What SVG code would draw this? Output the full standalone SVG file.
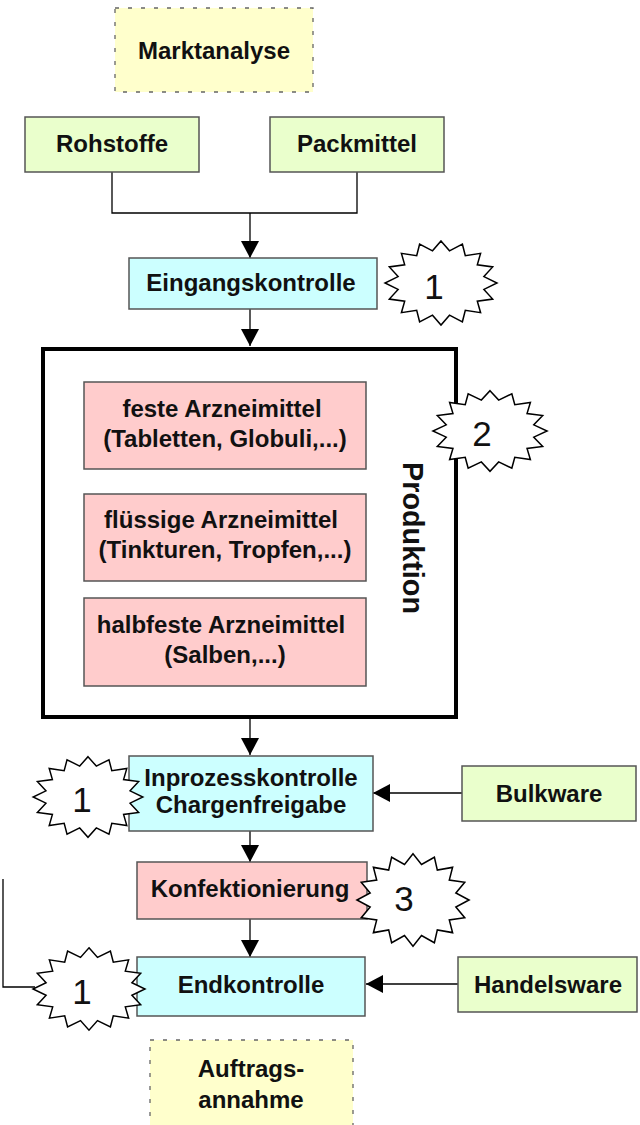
<svg xmlns="http://www.w3.org/2000/svg" width="640" height="1125" viewBox="0 0 640 1125">
<style>
.box{stroke:#555;stroke-width:1.5}
.green{fill:#eaffcc}
.cyan{fill:#ccffff}
.pink{fill:#ffcccc}
.yellow{fill:#ffffcc;stroke:#666;stroke-width:1.3;stroke-dasharray:4 9}
.t{font-family:"Liberation Sans",Arial,sans-serif;font-weight:bold;font-size:24px;fill:#111;text-anchor:middle}
.num{font-family:"Liberation Sans",Arial,sans-serif;font-size:35px;fill:#111;text-anchor:middle}
.star{fill:#fff;stroke:#000;stroke-width:1.5;stroke-linejoin:miter}
.conn{fill:none;stroke:#000;stroke-width:1.3}
</style>
<defs>
<marker id="arr" markerUnits="userSpaceOnUse" markerWidth="18" markerHeight="20" refX="17" refY="9" orient="auto">
<path d="M0,0 L17,9 L0,18 Z" fill="#000"/>
</marker>
<polygon id="starShape" points="0,-42 8.5,-32.2 21.4,-38.8 24.3,-27.3 39.6,-29.7 36.3,-18.2 51.7,-16.1 42.9,-6.4 56,0 42.9,6.4 51.7,16.1 36.3,18.2 39.6,29.7 24.3,27.3 21.4,38.8 8.5,32.2 0,42 -8.5,32.2 -21.4,38.8 -24.3,27.3 -39.6,29.7 -36.3,18.2 -51.7,16.1 -42.9,6.4 -56,0 -42.9,-6.4 -51.7,-16.1 -36.3,-18.2 -39.6,-29.7 -24.3,-27.3 -21.4,-38.8 -8.5,-32.2"/>
</defs>

<g id="connectors">
<path class="conn" d="M112,172 V213 H357 V170"/>
<path class="conn" d="M250,213 V258" marker-end="url(#arr)"/>
<path class="conn" d="M250,308 V346" marker-end="url(#arr)"/>
<path class="conn" d="M250,719 V755" marker-end="url(#arr)"/>
<path class="conn" d="M250,831 V862" marker-end="url(#arr)"/>
<path class="conn" d="M250,919 V957" marker-end="url(#arr)"/>
<path class="conn" d="M462,793 H373" marker-end="url(#arr)"/>
<path class="conn" d="M458,984 H366" marker-end="url(#arr)"/>
<path class="conn" d="M3,879 V987 H35"/>
</g>

<g id="marktanalyse">
<rect class="yellow" x="115" y="8" width="198" height="84"/>
<text class="t" x="214" y="59">Marktanalyse</text>
</g>

<g id="rohstoffe">
<rect class="box green" x="25" y="117" width="174" height="55"/>
<text class="t" x="112" y="152">Rohstoffe</text>
</g>

<g id="packmittel">
<rect class="box green" x="270" y="117" width="174" height="55"/>
<text class="t" x="357" y="152">Packmittel</text>
</g>

<g id="eingangskontrolle">
<rect class="box cyan" x="129" y="258" width="248" height="51"/>
<text class="t" x="251" y="291">Eingangskontrolle</text>
</g>

<g id="produktion">
<rect x="43" y="349" width="413" height="368" fill="#fff" stroke="#000" stroke-width="4"/>
<text class="t" transform="translate(403,538) rotate(90)" x="0" y="0" style="font-size:30px" textLength="152" lengthAdjust="spacingAndGlyphs">Produktion</text>
</g>

<g id="feste">
<rect class="box pink" x="84" y="382" width="282" height="87"/>
<text class="t" x="222" y="417">feste Arzneimittel</text>
<text class="t" x="225" y="447">(Tabletten, Globuli,...)</text>
</g>

<g id="fluessige">
<rect class="box pink" x="84" y="494" width="282" height="87"/>
<text class="t" x="221" y="528">flüssige Arzneimittel</text>
<text class="t" x="225" y="558">(Tinkturen, Tropfen,...)</text>
</g>

<g id="halbfeste">
<rect class="box pink" x="84" y="598" width="282" height="88"/>
<text class="t" x="221" y="633">halbfeste Arzneimittel</text>
<text class="t" x="225" y="663">(Salben,...)</text>
</g>

<g id="inprozesskontrolle">
<rect class="box cyan" x="129" y="756" width="244" height="75"/>
<text class="t" x="251" y="786">Inprozesskontrolle</text>
<text class="t" x="251" y="813">Chargenfreigabe</text>
</g>

<g id="bulkware">
<rect class="box green" x="462" y="766" width="174" height="55"/>
<text class="t" x="549" y="802">Bulkware</text>
</g>

<g id="konfektionierung">
<rect class="box pink" x="137" y="862" width="230" height="57"/>
<text class="t" x="250" y="897">Konfektionierung</text>
</g>

<g id="endkontrolle">
<rect class="box cyan" x="137" y="957" width="228" height="59"/>
<text class="t" x="251" y="993">Endkontrolle</text>
</g>

<g id="handelsware">
<rect class="box green" x="458" y="957" width="179" height="55"/>
<text class="t" x="548" y="993">Handelsware</text>
</g>

<g id="auftragsannahme">
<rect class="yellow" x="150" y="1040" width="203" height="95"/>
<text class="t" x="251" y="1077">Auftrags-</text>
<text class="t" x="251" y="1108">annahme</text>
</g>

<g id="star1-eingang">
<use href="#starShape" class="star" transform="translate(441,283)"/>
<text class="num" x="434" y="299">1</text>
</g>

<g id="star2-produktion">
<use href="#starShape" class="star" transform="translate(490,431) scale(1.02,0.96)"/>
<text class="num" x="482" y="446">2</text>
</g>

<g id="star1-inprozess">
<use href="#starShape" class="star" transform="translate(88,797) scale(0.98,0.96)"/>
<text class="num" x="82" y="812">1</text>
</g>

<g id="star3-konfektionierung">
<use href="#starShape" class="star" transform="translate(413,900) scale(1,1.1)"/>
<text class="num" x="404" y="911">3</text>
</g>

<g id="star1-end">
<use href="#starShape" class="star" transform="translate(89,989) scale(1,0.98)"/>
<text class="num" x="82" y="1004">1</text>
</g>
</svg>
